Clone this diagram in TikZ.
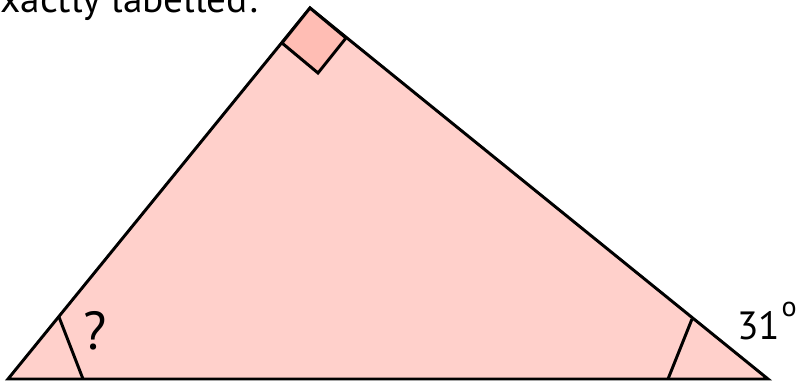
\documentclass[tikz,border=0pt]{standalone}
\usepackage{fontspec}
\setmainfont{PT Sans}
\usepackage{tikz}
\usetikzlibrary{positioning,calc}
\definecolor{tripink}{RGB}{255,208,203}
\definecolor{sqpink}{RGB}{255,189,180}
\tikzset{
  tri/.style = {draw=black, fill=tripink, line width=2.1pt, line join=miter},
  rtsq/.style = {draw=black, fill=sqpink, line width=2.1pt},
  anglemark/.style = {draw=black, line width=2.1pt},
  lbl/.style = {inner sep=0pt, font=\fontsize{28}{32}\selectfont},
}

\begin{document}
\begin{tikzpicture}[x=0.025cm, y=-0.025cm]
  \useasboundingbox (0,0) rectangle (796,382);
  \begin{scope}
  \clip (0,0) rectangle (796,382);
  % heading, cut off at the top
  \node (head) [lbl, anchor=base east] at (257,12) {Triangle, angles exactly labelled:};
  \end{scope}
  % corners
  \coordinate (A) at (8,379);
  \coordinate (B) at (310,8);
  \coordinate (C) at (768,379);
  \filldraw[tri] (A) -- (B) -- (C) -- cycle;
  % right angle
  \coordinate (Ba) at (282,43);
  \coordinate (Bc) at (346,38);
  \coordinate (Bm) at (318,73);
  \filldraw[rtsq] (B) -- (Ba) -- (Bm) -- (Bc) -- cycle;
  % angle marks
  \coordinate (Aup) at (59,317);
  \coordinate (Alo) at (83,379);
  \coordinate (Cup) at (692,319);
  \coordinate (Clo) at (668,379);
  \draw[anglemark] (Aup) -- (Alo);
  \draw[anglemark] (Cup) -- (Clo);
  \draw[tri, fill=none] (A) -- (C);
  % labels
  \node (q) [lbl, font=\fontsize{38}{42}\selectfont, anchor=base] at (95,349) {?};
  \node (deg) [lbl, anchor=base west] at (737,339)
    {31\hspace{1pt}\raisebox{16pt}{\fontsize{20}{20}\selectfont o}};
\end{tikzpicture}
\end{document}
